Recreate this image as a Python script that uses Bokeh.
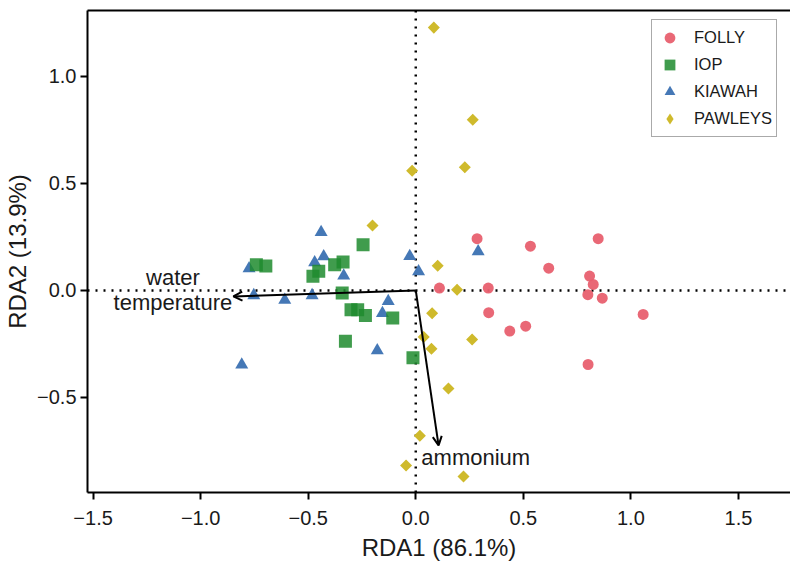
import math
from bokeh.plotting import figure
from bokeh.models import (Range1d, FixedTicker, Span, Arrow, OpenHead, Label,
                          Legend, LegendItem, LinearAxis)
from bokeh.embed import file_html
from bokeh.resources import INLINE

# ---- data ----
folly_x = [0.285, 0.533, 0.848, 0.618, 0.808, 0.825, 0.800, 0.867, 0.110, 0.337, 0.339, 0.437, 0.511, 1.057, 0.801]
folly_y = [0.242, 0.207, 0.242, 0.104, 0.067, 0.028, -0.020, -0.036, 0.011, 0.011, -0.104, -0.190, -0.167, -0.112, -0.346]

iop_x = [-0.245, -0.741, -0.697, -0.377, -0.338, -0.451, -0.478, -0.342, -0.301, -0.270, -0.234, -0.107, -0.327, -0.013]
iop_y = [0.214, 0.120, 0.114, 0.120, 0.133, 0.090, 0.066, -0.012, -0.090, -0.090, -0.117, -0.129, -0.237, -0.314]

kiawah_x = [-0.440, -0.428, -0.470, -0.775, -0.335, -0.753, -0.609, -0.482, -0.128, -0.155, -0.179, -0.809, -0.028, 0.013, 0.290]
kiawah_y = [0.272, 0.159, 0.131, 0.103, 0.069, -0.023, -0.045, -0.023, -0.050, -0.106, -0.280, -0.347, 0.160, 0.089, 0.182]

pawleys_x = [0.084, 0.265, 0.228, -0.017, -0.201, 0.102, 0.192, 0.076, 0.037, 0.073, 0.262, 0.152, 0.019, -0.045, 0.222]
pawleys_y = [1.228, 0.798, 0.576, 0.559, 0.304, 0.115, 0.003, -0.106, -0.218, -0.272, -0.229, -0.458, -0.679, -0.818, -0.869]

env_names = ["water temperature", "ammonium"]
env_x = [-0.848, 0.106]
env_y = [-0.028, -0.724]

sites = ["FOLLY", "IOP", "KIAWAH", "PAWLEYS"]
colors = ["#E8606F", "#1E8B2E", "#3B71B2", "#CFBA2C"]

x_ticks = [-1.5, -1.0, -0.5, 0.0, 0.5, 1.0, 1.5]
y_ticks = [-0.5, 0.0, 0.5, 1.0]

FONT = "Liberation Sans"
TXT = "#1a1a1a"

X0, X1 = -1.526, 1.742
Y0, Y1 = -0.944, 1.308

p = figure(width=790, height=568, x_range=Range1d(X0, X1), y_range=Range1d(Y0, Y1),
           output_backend="svg", toolbar_location=None,
           min_border_left=87, min_border_right=0, min_border_top=10, min_border_bottom=76)
p.outline_line_color = None
p.grid.visible = False
p.background_fill_color = "white"

# axes
p.xaxis.axis_label = "RDA1 (86.1%)"
p.yaxis.axis_label = "RDA2 (13.9%)"
p.xaxis.ticker = FixedTicker(ticks=x_ticks)
p.yaxis.ticker = FixedTicker(ticks=y_ticks)

def fmt(v):
    s = "%.1f" % abs(v)
    return ("\u2212" + s) if v < 0 else s

p.xaxis.major_label_overrides = {t: fmt(t) for t in x_ticks}
p.yaxis.major_label_overrides = {t: fmt(t) for t in y_ticks}
for ax in (p.xaxis[0], p.yaxis[0]):
    ax.axis_line_width = 2
    ax.axis_line_color = "black"
    ax.major_tick_line_width = 2
    ax.major_tick_line_color = "black"
    ax.major_tick_in = 0
    ax.major_tick_out = 7
    ax.minor_tick_line_color = None
    ax.major_label_text_font = FONT
    ax.major_label_text_font_size = "20px"
    ax.major_label_text_color = TXT
    ax.axis_label_text_font = FONT
    ax.axis_label_text_font_size = "24px"
    ax.axis_label_text_font_style = "normal"
    ax.axis_label_text_color = TXT
p.xaxis.major_label_standoff = 11
p.xaxis.axis_label_standoff = 6
p.yaxis.major_label_standoff = 4
p.yaxis.axis_label_standoff = 3

# top border as a bare axis line
top = LinearAxis(ticker=FixedTicker(ticks=[]), axis_line_width=2, axis_line_color="black",
                 major_tick_in=0, major_tick_out=0, minor_tick_line_color=None,
                 major_label_text_font_size="0px", major_label_standoff=0)
p.add_layout(top, "above")

# dotted zero lines (under points)
p.add_layout(Span(location=0, dimension="width", line_color="black", line_width=2.5,
                  line_dash="2 6", level="underlay"))
p.add_layout(Span(location=0, dimension="height", line_color="black", line_width=2.5,
                  line_dash="2 6", level="underlay"))

# points
r_f = p.scatter(folly_x, folly_y, marker="circle", size=11, fill_color=colors[0],
                line_color=None, fill_alpha=0.95)
r_k = p.scatter(kiawah_x, kiawah_y, marker="triangle", size=13, fill_color=colors[2],
                line_color=None, fill_alpha=0.95)
r_i = p.scatter(iop_x, iop_y, marker="square", size=13, fill_color=colors[1],
                line_color=None, fill_alpha=0.85)
# PAWLEYS: a diamond glyph (used for the legend key) fully covered by rotated squares
r_p_key = p.scatter(pawleys_x, pawleys_y, marker="diamond", size=11, fill_color=colors[3],
                    line_color=None, fill_alpha=1.0)
r_p = p.scatter(pawleys_x, pawleys_y, marker="square", angle=math.pi / 4, size=8.5,
                fill_color=colors[3], line_color=None, fill_alpha=1.0)

# biplot arrows
for ex, ey in zip(env_x, env_y):
    p.add_layout(Arrow(end=OpenHead(size=9, line_width=2, line_color="black"),
                       x_start=0, y_start=0, x_end=ex, y_end=ey,
                       line_width=2, line_color="black"))

p.add_layout(Label(x=-1.129, y=0.061, text="water", text_align="center", text_baseline="middle",
                   text_font=FONT, text_font_size="22px", text_color=TXT))
p.add_layout(Label(x=-1.129, y=-0.056, text="temperature", text_align="center", text_baseline="middle",
                   text_font=FONT, text_font_size="22px", text_color=TXT))
p.add_layout(Label(x=0.026, y=-0.780, text="ammonium", text_align="left", text_baseline="middle",
                   text_font=FONT, text_font_size="22px", text_color=TXT))

legend = Legend(items=[LegendItem(label=sites[0], renderers=[r_f]),
                       LegendItem(label=sites[1], renderers=[r_i]),
                       LegendItem(label=sites[2], renderers=[r_k]),
                       LegendItem(label=sites[3], renderers=[r_p_key])],
                location=(564, 355))
legend.border_line_color = "#555555"
legend.border_line_width = 1.5
legend.label_text_font = FONT
legend.label_text_font_size = "16.5px"
legend.label_text_color = TXT
legend.glyph_width = 27
legend.glyph_height = 27
legend.label_height = 27
legend.spacing = 0
legend.padding = 4
legend.label_standoff = 11
legend.margin = 0
legend.background_fill_alpha = 1
p.add_layout(legend)

open("out.html", "w").write(file_html(p, INLINE))
